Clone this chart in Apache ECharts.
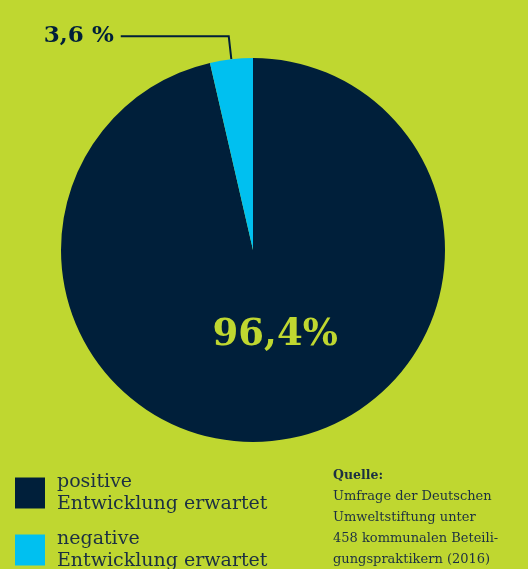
<!DOCTYPE html>
<html><head><meta charset="utf-8">
<script src="https://cdn.jsdelivr.net/npm/echarts@6/dist/echarts.min.js"></script>
<style>html,body{margin:0;padding:0;background:#bfd730;}#c{width:528px;height:569px;}</style>
</head><body><div id="c"></div>
<script>
var categories = ['positive\nEntwicklung erwartet', 'negative\nEntwicklung erwartet'];
var values = [96.4, 3.6];
var labels = ['96,4%', '3,6 %'];
var colors = ['#001f3a', '#00c0f0'];
var sourceLines = ['Quelle:', 'Umfrage der Deutschen', 'Umweltstiftung unter', '458 kommunalen Beteili-', 'gungspraktikern (2016)'];
var FONT = 'DejaVu Serif';
var TEXT = '#1c3042';

var chart = echarts.init(document.getElementById('c'), null, {renderer: 'canvas'});
var data = categories.map(function (c, i) {
  var item = { name: c, value: values[i], itemStyle: { color: colors[i] } };
  if (i === 0) {
    item.label = { show: true, position: 'inside', formatter: labels[i], color: '#bfd730',
      fontFamily: FONT, fontWeight: 'bold', fontSize: 37 };
    item.labelLine = { show: false };
  } else {
    item.label = { show: true, position: 'outside', formatter: labels[i], color: '#001f3a',
      fontFamily: FONT, fontWeight: 'bold', fontSize: 23, distanceToLabelLine: 7 };
    item.labelLine = { show: true, length: 23, length2: 108, smooth: false,
      lineStyle: { color: '#001f3a', width: 2 } };
  }
  return item;
});

function mkLegend(i, top) {
  return {
    orient: 'vertical', left: 15, top: top, itemWidth: 30, itemHeight: 31,
    icon: 'rect', selectedMode: false, padding: 0,
    textStyle: { fontFamily: FONT, fontSize: 19, color: TEXT, lineHeight: 22, padding: [6, 0, 0, 7] },
    data: [categories[i]]
  };
}

chart.setOption({
  backgroundColor: '#bfd730',
  animation: false,
  legend: [mkLegend(0, 468), mkLegend(1, 525)],
  graphic: [{
    type: 'text', left: 333, top: 469,
    style: {
      text: sourceLines.map(function (l, i) { return i === 0 ? '{b|' + l + '}' : '{n|' + l + '}'; }).join('\n'),
      rich: {
        b: { fontFamily: FONT, fontWeight: 'bold', fontSize: 12.5, lineHeight: 21, fill: TEXT },
        n: { fontFamily: FONT, fontSize: 13, lineHeight: 21, fill: TEXT }
      }
    }
  }],
  series: [{
    type: 'pie', center: [253, 250], radius: 192, startAngle: 90, clockwise: true,
    avoidLabelOverlap: false, silent: true,
    itemStyle: { borderWidth: 0 },
    labelLayout: function (p) { return p.dataIndex === 0 ? { dx: 11, dy: -13 } : {}; },
    data: data
  }]
});
</script></body></html>
